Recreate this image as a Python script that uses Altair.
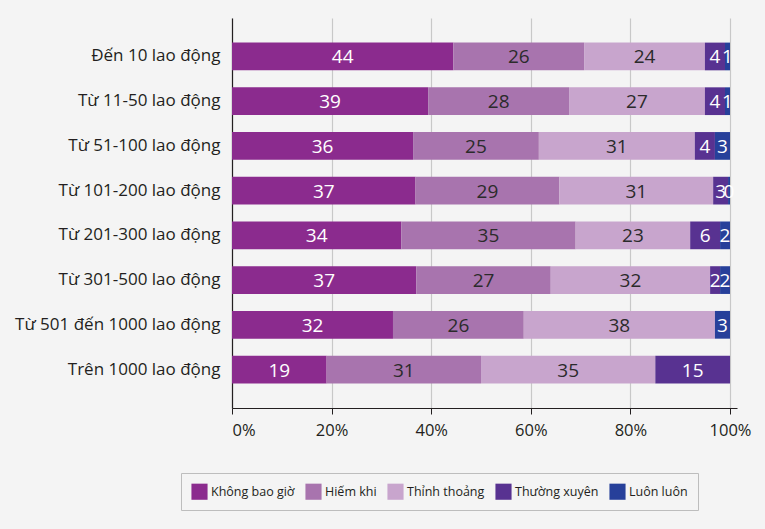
import altair as alt
import pandas as pd

categories = [
    "Đến 10 lao động",
    "Từ 11-50 lao động",
    "Từ 51-100 lao động",
    "Từ 101-200 lao động",
    "Từ 201-300 lao động",
    "Từ 301-500 lao động",
    "Từ 501 đến 1000 lao động",
    "Trên 1000 lao động",
]
series = ["Không bao giờ", "Hiếm khi", "Thỉnh thoảng", "Thường xuyên", "Luôn luôn"]
colors = ["#8B2B8E", "#A874AE", "#C8A5CD", "#583291", "#27409A"]

khong_bao_gio = [44, 39, 36, 37, 34, 37, 32, 19]
hiem_khi = [26, 28, 25, 29, 35, 27, 26, 31]
thinh_thoang = [24, 27, 31, 31, 23, 32, 38, 35]
thuong_xuyen = [4, 4, 4, 3, 6, 2, 0, 15]
luon_luon = [1, 1, 3, 0.4, 2, 2, 3, 0]

cols = [khong_bao_gio, hiem_khi, thinh_thoang, thuong_xuyen, luon_luon]
rows = []
for ci, cat in enumerate(categories):
    for si, s in enumerate(series):
        rows.append({"cat": cat, "series": s, "idx": si, "value": cols[si][ci]})
df = pd.DataFrame(rows)

FONT = "Open Sans"
DARK = "#231F20"

base = alt.Chart(df).transform_stack(
    stack="value",
    groupby=["cat"],
    as_=["x0", "x1"],
    sort=[alt.SortField("idx", order="ascending")],
    offset="normalize",
).transform_calculate(mid="(datum.x0 + datum.x1) / 2")

yenc = alt.Y(
    "cat:N",
    sort=categories,
    title=None,
    scale=alt.Scale(paddingInner=0.38, paddingOuter=0.55),
    axis=alt.Axis(
        labelFontSize=17,
        labelFont=FONT,
        labelColor=DARK,
        labelLimit=400,
        ticks=False,
        labelPadding=12,
        domainColor=DARK,
        domainWidth=1.2,
        grid=False,
    ),
)

bars = base.mark_bar().encode(
    x=alt.X(
        "x0:Q",
        scale=alt.Scale(domain=[0, 1.014], nice=False, zero=True),
        title=None,
        axis=alt.Axis(
            values=[0, 0.2, 0.4, 0.6, 0.8, 1.0],
            format="%",
            labelFontSize=16.5,
            labelFont=FONT,
            labelColor=DARK,
            tickSize=6,
            tickColor=DARK,
            domainColor=DARK,
            domainWidth=1.2,
            labelPadding=8,
            grid=True,
            gridColor="#C8C8C8",
            gridWidth=1.2,
        ),
    ),
    x2="x1:Q",
    y=yenc,
    color=alt.Color(
        "series:N",
        scale=alt.Scale(domain=series, range=colors),
        sort=series,
        legend=alt.Legend(
            title=None,
            orient="none",
            legendX=-51,
            legendY=455,
            direction="horizontal",
            symbolType="square",
            symbolSize=260,
            symbolStrokeWidth=0,
            symbolOpacity=1,
            labelFontSize=12.5,
            labelFont=FONT,
            labelColor=DARK,
            labelOffset=3,
            columnPadding=10,
            padding=10,
            strokeColor="#BDBDBD",
            fillColor="#F4F4F4",
        ),
    ),
)

labels = base.transform_filter("datum.value > 0").mark_text(
    fontSize=19, font=FONT, baseline="middle", align="center", dy=1
).encode(
    x=alt.X("mid:Q"),
    y=alt.Y("cat:N", sort=categories),
    text=alt.Text("value:Q", format=".0f"),
    color=alt.condition(
        "datum.idx == 1 || datum.idx == 2", alt.value("#2B2B2B"), alt.value("white")
    ),
)

chart = (
    alt.layer(bars, labels)
    .properties(
        width=505,
        height=390,
        background="#F4F4F4",
        padding={"left": 232, "top": 18, "right": 28, "bottom": 121},
        autosize=alt.AutoSizeParams(type="none"),
    )
    .configure_view(stroke=None)
)

chart.save("out.html", embed_options={"renderer": "svg", "actions": False})
